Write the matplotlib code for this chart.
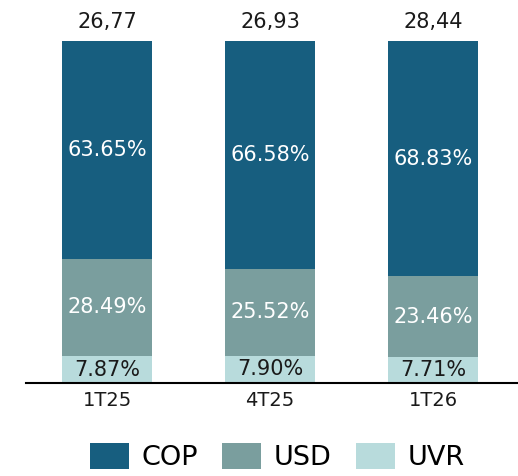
import matplotlib
matplotlib.use("Agg")
import matplotlib.pyplot as plt
import numpy as np

periods = ["1T25", "4T25", "1T26"]
totals = ["26,77", "26,93", "28,44"]
cop = [63.65, 66.58, 68.83]
usd = [28.49, 25.52, 23.46]
uvr = [7.87, 7.90, 7.71]

c_cop = "#175e7f"
c_usd = "#7a9e9e"
c_uvr = "#b8dbdc"

plt.rcParams['font.family'] = ['DejaVu Sans']

fig = plt.figure(figsize=(5.18, 4.76), dpi=100)
ax = fig.add_axes([26 / 518, 93 / 476, 492 / 518, 342 / 476])

x = np.arange(len(periods))
w = 0.552
uvr = np.array(uvr)
usd = np.array(usd)
cop = np.array(cop)

b1 = ax.bar(x, uvr, w, color=c_uvr, label="UVR")
b2 = ax.bar(x, usd, w, bottom=uvr, color=c_usd, label="USD")
b3 = ax.bar(x, cop, w, bottom=uvr + usd, color=c_cop, label="COP")

for i in range(len(x)):
    ax.text(x[i], uvr[i] / 2, f"{uvr[i]:.2f}%", ha="center", va="center",
            fontsize=15, color="#1a1a1a")
    ax.text(x[i], uvr[i] + usd[i] / 2, f"{usd[i]:.2f}%", ha="center", va="center",
            fontsize=15, color="white")
    ax.text(x[i], uvr[i] + usd[i] + cop[i] / 2, f"{cop[i]:.2f}%", ha="center",
            va="center", fontsize=15, color="white")
    ax.text(x[i], 100 + 2.5, totals[i], ha="center", va="bottom",
            fontsize=15, color="#1a1a1a", clip_on=False)

ax.set_xlim(-0.497, 2.52)
ax.set_ylim(0, 100)
ax.set_xticks(x)
ax.set_xticklabels(periods, fontsize=14, color="#1a1a1a")
ax.tick_params(axis="x", length=0, pad=6)
ax.set_yticks([])
for s in ["top", "right", "left"]:
    ax.spines[s].set_visible(False)
ax.spines["bottom"].set_linewidth(1.5)

fig.legend([b3, b2, b1], ["COP", "USD", "UVR"], ncol=3, loc="lower center",
           bbox_to_anchor=(0.535, -0.012), frameon=False, fontsize=19.5,
           handlelength=1.45, handleheight=1.1, handletextpad=0.45,
           columnspacing=0.9, borderaxespad=0)

fig.savefig("out.png", dpi=100)
